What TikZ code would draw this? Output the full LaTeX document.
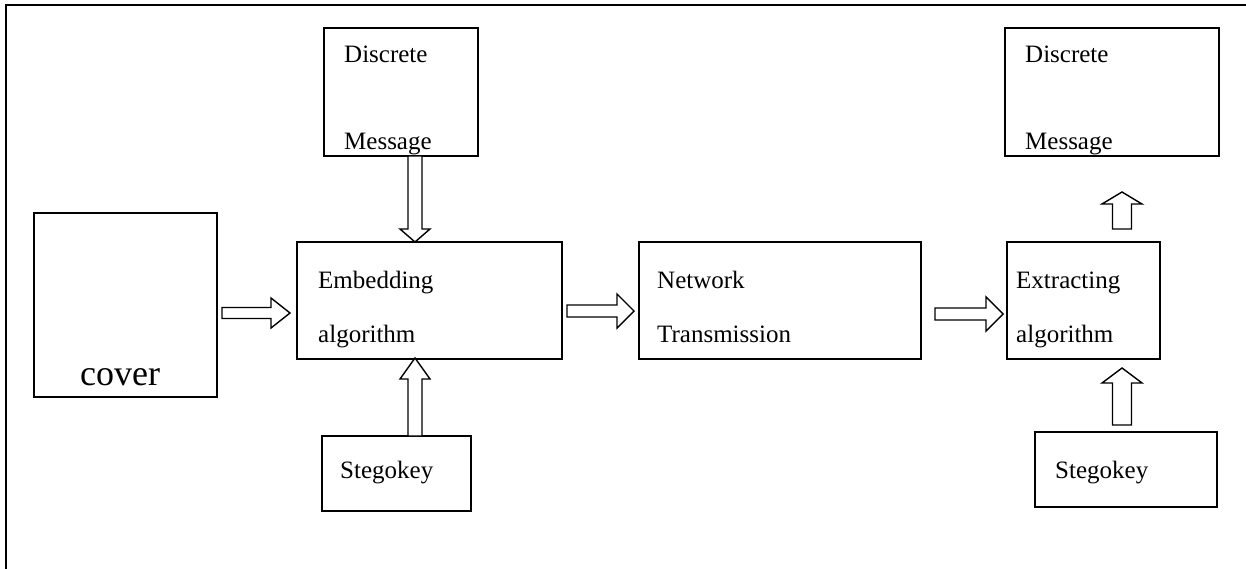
\documentclass[tikz,border=0pt]{standalone}
\usepackage{fontspec}
\setmainfont{Liberation Serif}
\usetikzlibrary{fit,calc}
\begin{document}
\begin{tikzpicture}[x=1pt,y=-1pt,
  box/.style={draw, line width=1.6pt, inner sep=0pt, outer sep=0pt},
  lbl/.style={anchor=base west, inner sep=0pt, font=\fontsize{25}{30}\selectfont},
  hollow/.style n args={3}{line width=1.4pt, to path={let \p1=(\tikztostart),\p2=(\tikztotarget),
     \n1={atan2(\y2-\y1,\x2-\x1)},\n2={veclen(\x2-\x1,\y2-\y1)} in
     ([shift={(\p1)},rotate=\n1]0,-#1) -- ([shift={(\p1)},rotate=\n1]\n2-#3,-#1)
     -- ([shift={(\p1)},rotate=\n1]\n2-#3,-#2) -- ([shift={(\p1)},rotate=\n1]\n2,0)
     -- ([shift={(\p1)},rotate=\n1]\n2-#3,#2) -- ([shift={(\p1)},rotate=\n1]\n2-#3,#1)
     -- ([shift={(\p1)},rotate=\n1]0,#1) -- cycle}}]
\useasboundingbox (0,0) rectangle (1246,569);
\draw[line width=2.5pt] (6,569) -- (6,5) -- (1246,5);

% boxes
\node[box, fit={(34,213)(217,397)}] (cover) {};
\node[box, fit={(324,28)(478,156)}] (dm1) {};
\node[box, fit={(297,242)(562,359)}] (emb) {};
\node[box, fit={(639,242)(921,359)}] (net) {};
\node[box, fit={(1007,242)(1160,359)}] (ext) {};
\node[box, fit={(1005,28)(1219,156)}] (dm2) {};
\node[box, fit={(322,436)(471,511)}] (st1) {};
\node[box, fit={(1035,432)(1217,507)}] (st2) {};

% labels
\node[lbl, font=\fontsize{36}{40}\selectfont] (tcover) at (80,385) {cover};
\node[lbl] (tdm1a) at (344,63) {Discrete};
\node[lbl] (tdm1b) at (344,150) {Message};
\node[lbl] (tdm2a) at (1025,63) {Discrete};
\node[lbl] (tdm2b) at (1025,150) {Message};
\node[lbl] (temba) at (318,288) {Embedding};
\node[lbl] (tembb) at (318,342) {algorithm};
\node[lbl] (tneta) at (657,288) {Network};
\node[lbl] (tnetb) at (657,342) {Transmission};
\node[lbl] (texta) at (1016,288) {Extracting};
\node[lbl] (textb) at (1016,342) {algorithm};
\node[lbl] (tst1) at (340,478) {Stegokey};
\node[lbl] (tst2) at (1055,478) {Stegokey};

% arrow end points
\coordinate (a1s) at (222,313); \coordinate (a1e) at (290,313);
\coordinate (a2s) at (567,311); \coordinate (a2e) at (634,311);
\coordinate (a3s) at (935,314); \coordinate (a3e) at (1003,314);
\coordinate (a4s) at (415,156); \coordinate (a4e) at (415,242);
\coordinate (a5s) at (415,436); \coordinate (a5e) at (415,358);
\coordinate (a6s) at (1122,229); \coordinate (a6e) at (1122,192);
\coordinate (a7s) at (1122,425); \coordinate (a7e) at (1122,368);

\draw[hollow={5.5}{15}{19}] (a1s) to (a1e);
\draw[hollow={6}{17}{17}] (a2s) to (a2e);
\draw[hollow={6}{17}{17}] (a3s) to (a3e);
\draw[hollow={7}{15}{13}, fill=white] (a4s) to (a4e);
\draw[hollow={7}{15}{21}, fill=white] (a5s) to (a5e);
\draw[hollow={9.5}{20}{12}] (a6s) to (a6e);
\draw[hollow={9.5}{20}{15}] (a7s) to (a7e);
\end{tikzpicture}
\end{document}
